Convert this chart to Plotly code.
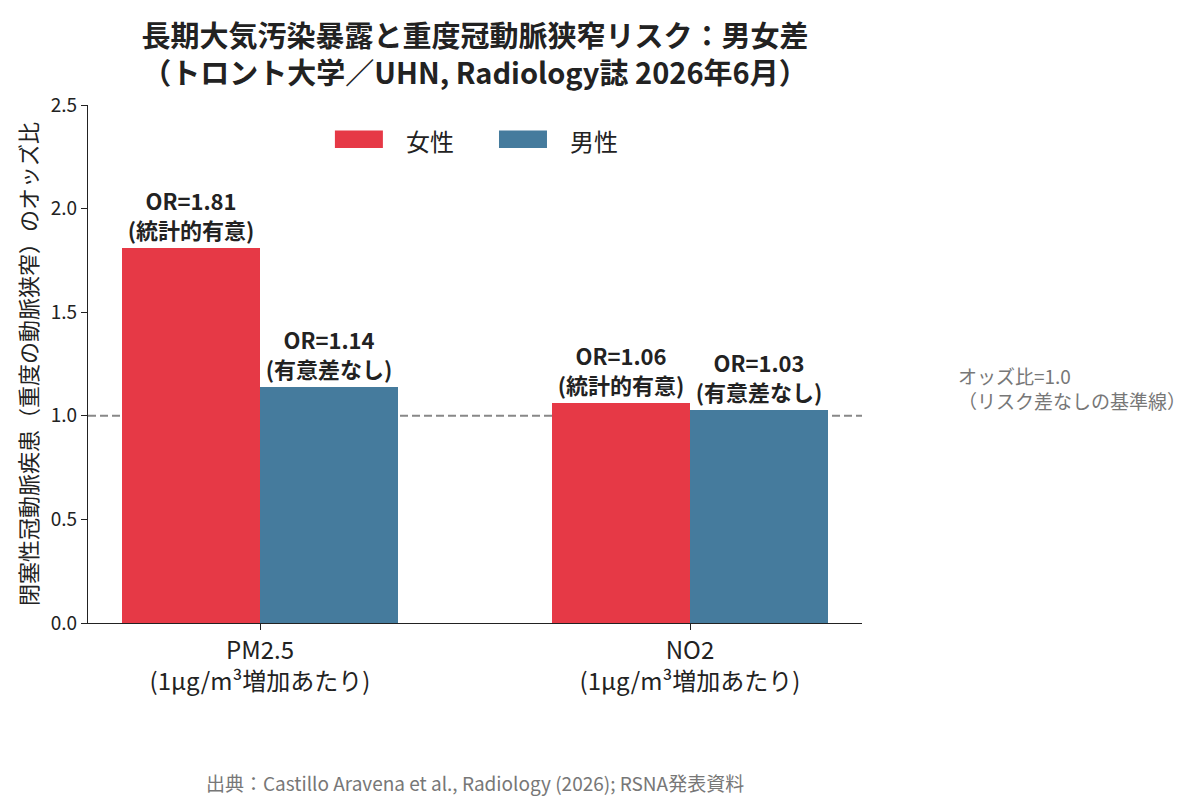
import plotly.graph_objects as go

# データ
categories = ["PM2.5<br>(1μg/m³増加あたり)", "NO2<br>(1μg/m³増加あたり)"]
cat_pos = [0, 1]
or_female = [1.81, 1.06]
or_male = [1.14, 1.03]
label_female = ["OR=1.81<br>(統計的有意)", "OR=1.06<br>(統計的有意)"]
label_male = ["OR=1.14<br>(有意差なし)", "OR=1.03<br>(有意差なし)"]
series_names = ["女性", "男性"]
y_ticks = [0.0, 0.5, 1.0, 1.5, 2.0, 2.5]

FONT = "Noto Sans CJK JP"
colors = ["#E63946", "#457B9D"]
bar_w = 0.32

fig = go.Figure()

fig.add_trace(go.Bar(
    x=cat_pos, y=or_female, name=series_names[0],
    width=bar_w, offset=-bar_w,
    marker=dict(color=colors[0], line=dict(width=0)),
    text=label_female, textposition="outside", constraintext="none",
    textfont=dict(size=22, color="#222222", family=FONT, weight="bold"),
    cliponaxis=False,
))
fig.add_trace(go.Bar(
    x=cat_pos, y=or_male, name=series_names[1],
    width=bar_w, offset=0,
    marker=dict(color=colors[1], line=dict(width=0)),
    text=label_male, textposition="outside", constraintext="none",
    textfont=dict(size=22, color="#222222", family=FONT, weight="bold"),
    cliponaxis=False,
))

# 凡例（横長のパッチ）を手作り
patch_x0 = [0.319, 0.531]
for name, col, x0 in zip(series_names, colors, patch_x0):
    fig.add_shape(type="rect", xref="paper", yref="paper",
                  x0=x0, x1=x0 + 0.062, y0=0.917, y1=0.951,
                  fillcolor=col, line=dict(width=0))
    fig.add_annotation(text=name, xref="paper", yref="paper",
                       x=x0 + 0.089, y=0.932, xanchor="left", yanchor="middle",
                       showarrow=False,
                       font=dict(size=24, family=FONT, color="#222222"))

# 基準線 (OR=1.0)
fig.add_shape(type="line", xref="paper", x0=0, x1=1, yref="y", y0=1.0, y1=1.0,
              layer="below",
              line=dict(color="#888888", width=2, dash="8px,4px"))

fig.add_annotation(
    text="オッズ比=1.0<br>（リスク差なしの基準線）",
    xref="paper", yref="paper", x=1.122, y=0.454,
    xanchor="left", yanchor="middle", align="left", showarrow=False,
    font=dict(size=19, color="#777777", family=FONT),
)

fig.add_annotation(
    text="出典：Castillo Aravena et al., Radiology (2026); RSNA発表資料",
    xref="paper", yref="paper", x=0.5, y=-0.307,
    xanchor="center", yanchor="middle", showarrow=False,
    font=dict(size=19, color="#777777", family=FONT),
)

fig.update_layout(
    width=1200, height=808,
    margin=dict(l=80, r=346, t=97, b=193),
    paper_bgcolor="white", plot_bgcolor="white",
    font=dict(family=FONT, color="#222222"),
    title=dict(
        text="長期大気汚染暴露と重度冠動脈狭窄リスク：男女差<br>（トロント大学／UHN, Radiology誌 2026年6月）",
        x=0.5, xref="paper", xanchor="center",
        y=0.952, yref="container", yanchor="middle",
        font=dict(size=29, family=FONT, color="#222222", weight="bold"),
    ),
    showlegend=False,
    bargap=0, barmode="overlay",
)

fig.update_xaxes(
    range=[-0.4, 1.4], tickvals=cat_pos, ticktext=categories,
    showline=True, linecolor="#222222", linewidth=1.3,
    ticks="outside", ticklen=6, tickcolor="#222222",
    tickfont=dict(size=24, family=FONT, color="#222222"),
    showgrid=False, zeroline=False,
)
fig.update_yaxes(
    range=[0, 2.5], tickvals=y_ticks, tickformat=".1f",
    showline=True, linecolor="#222222", linewidth=1.3,
    ticks="outside", ticklen=6, tickcolor="#222222",
    tickfont=dict(size=19, family=FONT, color="#222222"),
    showgrid=False, zeroline=False,
    title=dict(text="閉塞性冠動脈疾患（重度の動脈狭窄）のオッズ比",
               font=dict(size=22, family=FONT, color="#222222"), standoff=6),
)

fig.write_html("out.html")
